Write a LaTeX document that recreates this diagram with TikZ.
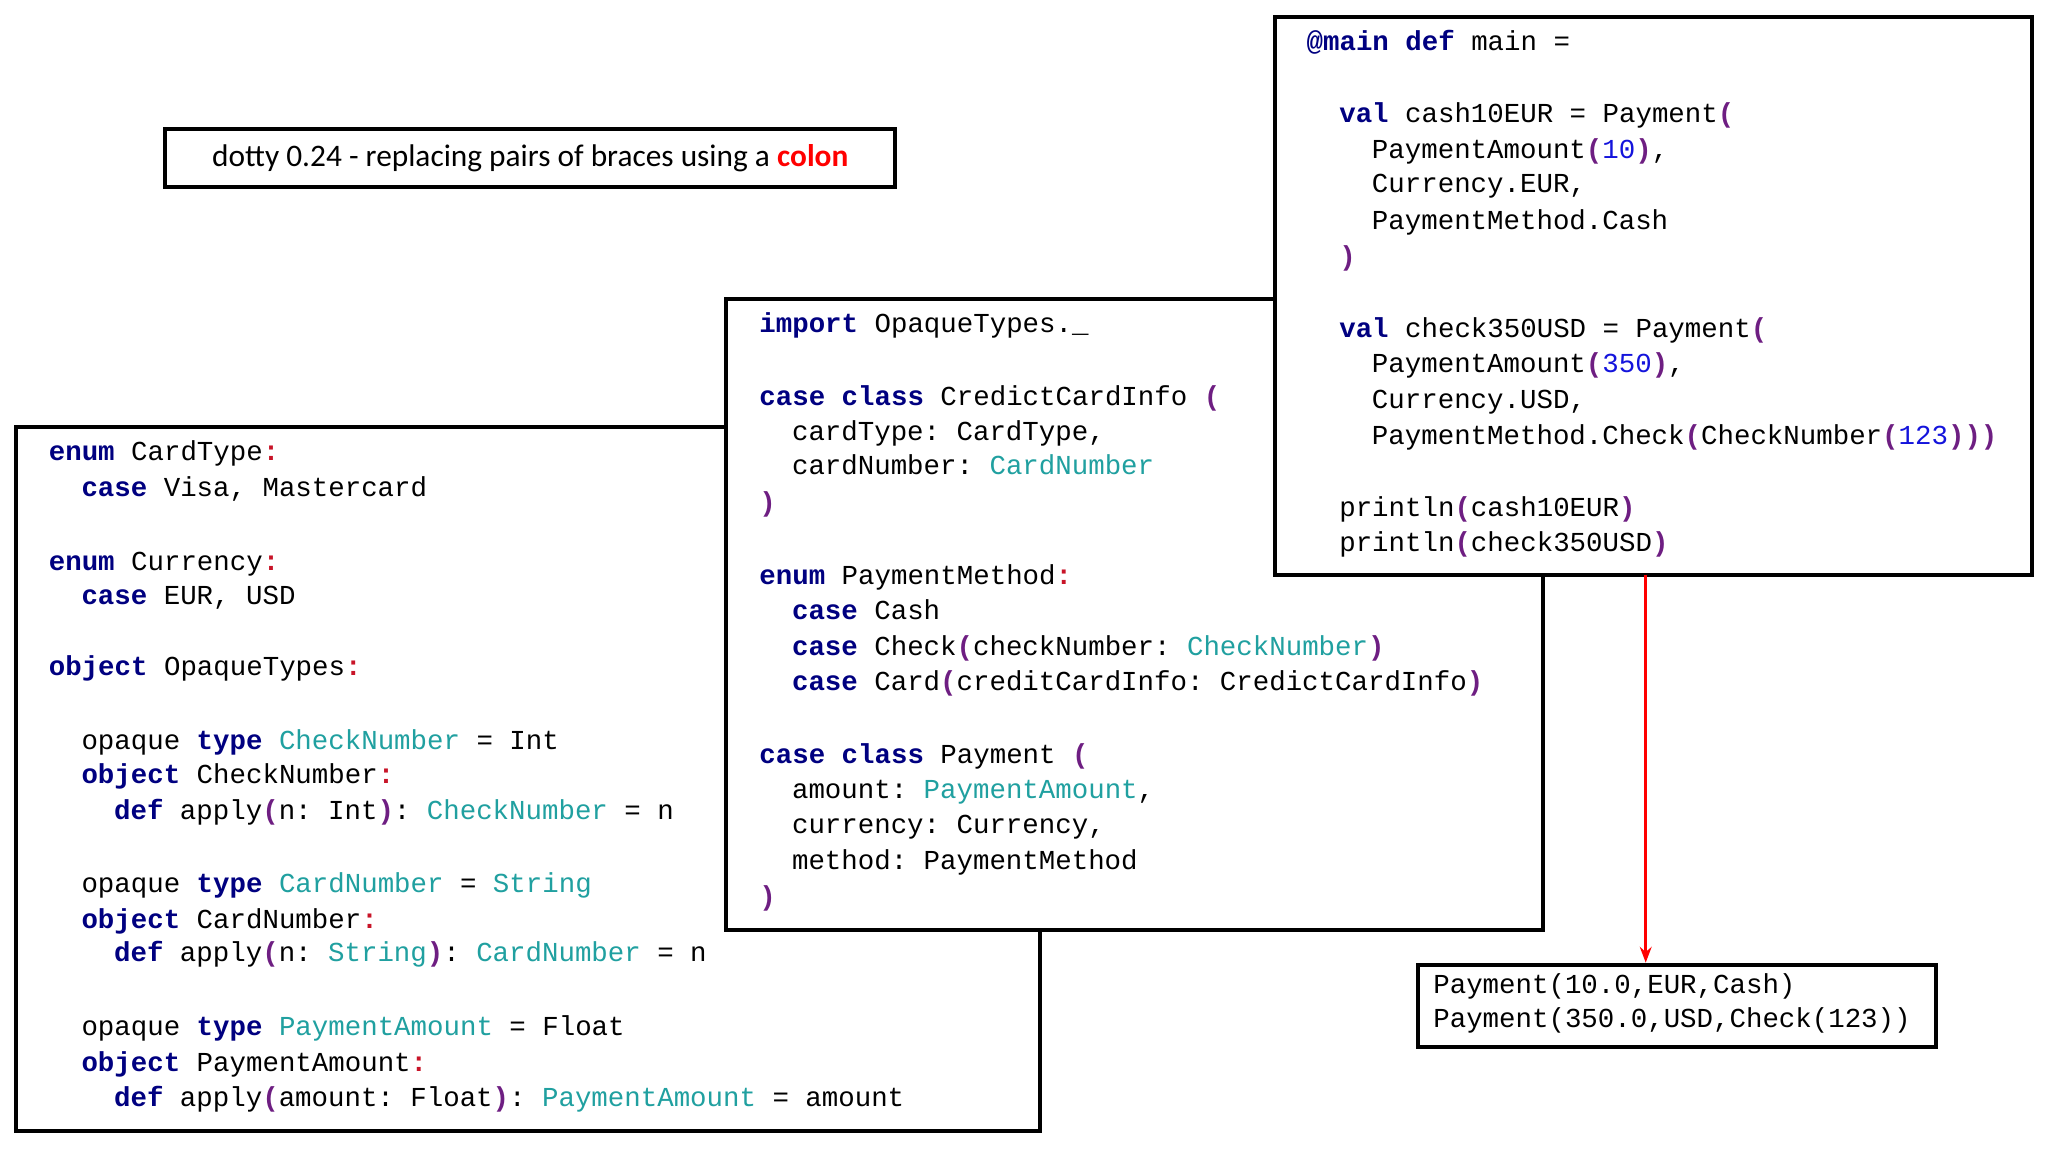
\documentclass[tikz,border=0pt]{standalone}
\usepackage{fontspec}
\setmainfont{Carlito}
\setmonofont{Liberation Mono}
\usetikzlibrary{arrows.meta}
\definecolor{kwc}{RGB}{0,0,128}
\definecolor{tyc}{RGB}{32,160,160}
\definecolor{pcc}{RGB}{200,20,40}
\definecolor{ppc}{RGB}{110,30,130}
\definecolor{nmc}{RGB}{20,20,220}
\newcommand{\kw}[1]{\textcolor{kwc}{\textbf{#1}}}
\newcommand{\ty}[1]{\textcolor{tyc}{#1}}
\newcommand{\pc}[1]{\textcolor{pcc}{\textbf{#1}}}
\newcommand{\pp}[1]{\textcolor{ppc}{\textbf{#1}}}
\newcommand{\nm}[1]{\textcolor{nmc}{#1}}
\begin{document}
\begin{tikzpicture}[x=0.5pt,y=-0.5pt,
  box/.style={draw=black,line width=1.5pt,fill=white},
  code/.style={anchor=west,inner sep=0pt,font=\ttfamily\fontsize{10.5}{12}\selectfont,text height=0.75em,text depth=0.2em}]
\useasboundingbox (0,0) rectangle (1568,882);
\node[box,anchor=west,minimum height=22pt,minimum width=279.5pt,inner xsep=6pt,font=\fontsize{12}{14}\selectfont] (title) at (125,121) {dotty 0.24 - replacing pairs of braces using a \textcolor{red}{\textbf{colon}}};
% left box
\draw[box] (12,327) rectangle (796,866);
\node[code] (a1) at (37,347) {\kw{enum} CardType\pc{:}};
\node[code] (a2) at (62,375) {\kw{case} Visa, Mastercard};
\node[code] (a3) at (37,431) {\kw{enum} Currency\pc{:}};
\node[code] (a4) at (62,457) {\kw{case} EUR, USD};
\node[code] (a5) at (37,512) {\kw{object} OpaqueTypes\pc{:}};
\node[code] (a6) at (62,568) {opaque \kw{type} \ty{CheckNumber} = Int};
\node[code] (a7) at (62,594) {\kw{object} CheckNumber\pc{:}};
\node[code] (a8) at (87,622) {\kw{def} apply\pp{(}n: Int\pp{)}: \ty{CheckNumber} = n};
\node[code] (a9) at (62,678) {opaque \kw{type} \ty{CardNumber} = \ty{String}};
\node[code] (a10) at (62,705) {\kw{object} CardNumber\pc{:}};
\node[code] (a11) at (87,731) {\kw{def} apply\pp{(}n: \ty{String}\pp{)}: \ty{CardNumber} = n};
\node[code] (a12) at (62,787) {opaque \kw{type} \ty{PaymentAmount} = Float};
\node[code] (a13) at (62,815) {\kw{object} PaymentAmount\pc{:}};
\node[code] (a14) at (87,842) {\kw{def} apply\pp{(}amount: Float\pp{)}: \ty{PaymentAmount} = amount};
% middle box
\draw[box] (556,229) rectangle (1181,712);
\node[code] (b1) at (581,249) {\kw{import} OpaqueTypes.\_};
\node[code] (b2) at (581,305) {\kw{case} \kw{class} CredictCardInfo \pp{(}};
\node[code] (b3) at (606,332) {cardType: CardType,};
\node[code] (b4) at (606,358) {cardNumber: \ty{CardNumber}};
\node[code] (b5) at (581,386) {\pp{)}};
\node[code] (b6) at (581,442) {\kw{enum} PaymentMethod\pc{:}};
\node[code] (b7) at (606,469) {\kw{case} Cash};
\node[code] (b8) at (606,496) {\kw{case} Check\pp{(}checkNumber: \ty{CheckNumber}\pp{)}};
\node[code] (b9) at (606,523) {\kw{case} Card\pp{(}creditCardInfo: CredictCardInfo\pp{)}};
\node[code] (b10) at (581,579) {\kw{case} \kw{class} Payment \pp{(}};
\node[code] (b11) at (606,606) {amount: \ty{PaymentAmount},};
\node[code] (b12) at (606,633) {currency: Currency,};
\node[code] (b13) at (606,660) {method: PaymentMethod};
\node[code] (b14) at (581,688) {\pp{)}};
% right box
\draw[box] (976,13) rectangle (1556,440);
\node[code] (c1) at (1000,33) {\kw{@main} \kw{def} main =};
\node[code] (c2) at (1025,88) {\kw{val} cash10EUR = Payment\pp{(}};
\node[code] (c3) at (1050,116) {PaymentAmount\pp{(}\nm{10}\pp{)},};
\node[code] (c4) at (1050,142) {Currency.EUR,};
\node[code] (c5) at (1050,170) {PaymentMethod.Cash};
\node[code] (c6) at (1025,198) {\pp{)}};
\node[code] (c7) at (1025,253) {\kw{val} check350USD = Payment\pp{(}};
\node[code] (c8) at (1050,280) {PaymentAmount\pp{(}\nm{350}\pp{)},};
\node[code] (c9) at (1050,307) {Currency.USD,};
\node[code] (c10) at (1050,335) {PaymentMethod.Check\pp{(}CheckNumber\pp{(}\nm{123}\pp{)))}};
\node[code] (c11) at (1025,390) {println\pp{(}cash10EUR\pp{)}};
\node[code] (c12) at (1025,417) {println\pp{(}check350USD\pp{)}};
% output
\node[box,minimum width=198.5pt,minimum height=31.5pt,anchor=north west] (out) at (1084,737) {};
\node[code] (d1) at (1097,755) {Payment(10.0,EUR,Cash)};
\node[code] (d2) at (1097,781) {Payment(350.0,USD,Check(123))};
\coordinate (src) at (1260,440);
\draw[red,line width=1pt,-{Stealth[length=6pt]}] (src) -- (src |- out.north);
\end{tikzpicture}
\end{document}
